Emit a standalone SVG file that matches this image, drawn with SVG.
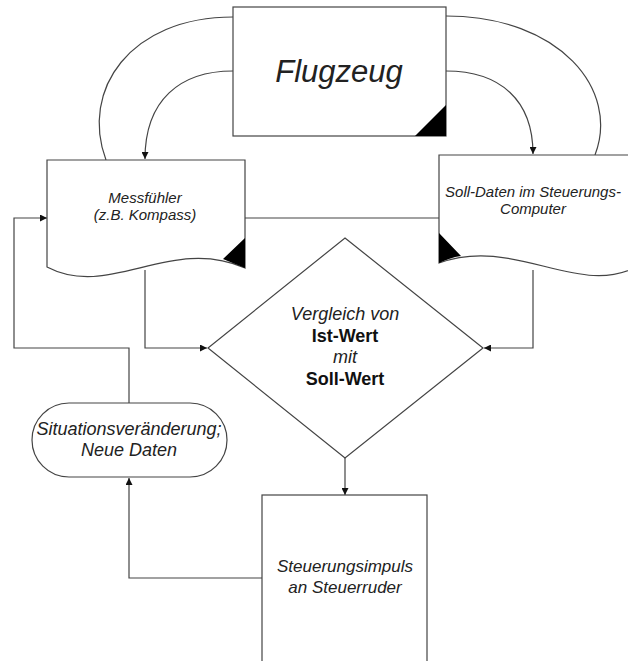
<svg xmlns="http://www.w3.org/2000/svg" width="628" height="661" viewBox="0 0 628 661">
<defs>
<style>
.s{fill:#fff;stroke:#444;stroke-width:1.2}
.c{fill:none;stroke:#444;stroke-width:1.2}
.t{font-family:"Liberation Sans",Arial,sans-serif;font-style:italic;fill:#222;text-anchor:middle}
.b{font-family:"Liberation Sans",Arial,sans-serif;font-weight:bold;fill:#111;text-anchor:middle}
.k{fill:#000}
</style>
<marker id="a" viewBox="0 0 10 10" refX="10" refY="5" markerWidth="7" markerHeight="7" markerUnits="userSpaceOnUse" orient="auto">
<path d="M0,0 L10,5 L0,10 z" fill="#111"/>
</marker>
</defs>
<rect width="628" height="661" fill="#fff"/>
<g id="connectors">
<path class="c" d="M233,17 C130,17 80,90 106,160"/>
<path class="c" d="M233,71 C180,71 145,100 145,159" marker-end="url(#a)"/>
<path class="c" d="M446,16 C560,16 620,90 595,155"/>
<path class="c" d="M446,71 C500,71 533,100 533,154" marker-end="url(#a)"/>
<path class="c" d="M245,218 L439,218"/>
<path class="c" d="M145,270 L145,348 L207,348" marker-end="url(#a)"/>
<path class="c" d="M533,270 L533,348 L484,348" marker-end="url(#a)"/>
<path class="c" d="M345,458 L345,495" marker-end="url(#a)"/>
<path class="c" d="M262,578 L129,578 L129,478" marker-end="url(#a)"/>
<path class="c" d="M129,403 L129,348 L14,348 L14,218 L47,218" marker-end="url(#a)"/>
</g>
<g id="flugzeug">
<rect class="s" x="233" y="7" width="213" height="129"/>
<path class="k" d="M446,105 L446,136 L415,136 z"/>
<text class="t" x="339" y="82" font-size="31">Flugzeug</text>
</g>
<g id="messfuehler">
<path class="s" d="M47,160 L245,160 L245,268 C170,235 110,300 47,267 z"/>
<path class="k" d="M245,238 L245,268 C238,265 230,262 223,259 z"/>
<text class="t" x="145" y="203" font-size="15">Messfühler</text>
<text class="t" x="145" y="220" font-size="15">(z.B. Kompass)</text>
</g>
<g id="solldaten">
<path class="s" d="M439,155 L640,155 L640,265 C580,300 515,235 439,263 z"/>
<path class="k" d="M439,233 L439,263 C446,260 453,257 461,256 z"/>
<text class="t" x="533" y="197" font-size="15">Soll-Daten im Steuerungs-</text>
<text class="t" x="533" y="214" font-size="15">Computer</text>
</g>
<g id="vergleich">
<path class="s" d="M345,238 L483,348 L345,458 L208,348 z"/>
<text class="t" x="345" y="320" font-size="18">Vergleich von</text>
<text class="b" x="345" y="342" font-size="18">Ist-Wert</text>
<text class="t" x="345" y="363" font-size="18">mit</text>
<text class="b" x="345" y="385" font-size="18">Soll-Wert</text>
</g>
<g id="steuerungsimpuls">
<rect class="s" x="262" y="495" width="165" height="180"/>
<text class="t" x="345" y="572" font-size="17">Steuerungsimpuls</text>
<text class="t" x="345" y="593" font-size="17">an Steuerruder</text>
</g>
<g id="situation">
<rect class="s" x="32" y="403" width="195" height="74" rx="37" ry="37"/>
<text class="t" x="129" y="435" font-size="18">Situationsveränderung;</text>
<text class="t" x="129" y="456" font-size="18">Neue Daten</text>
</g>
</svg>
